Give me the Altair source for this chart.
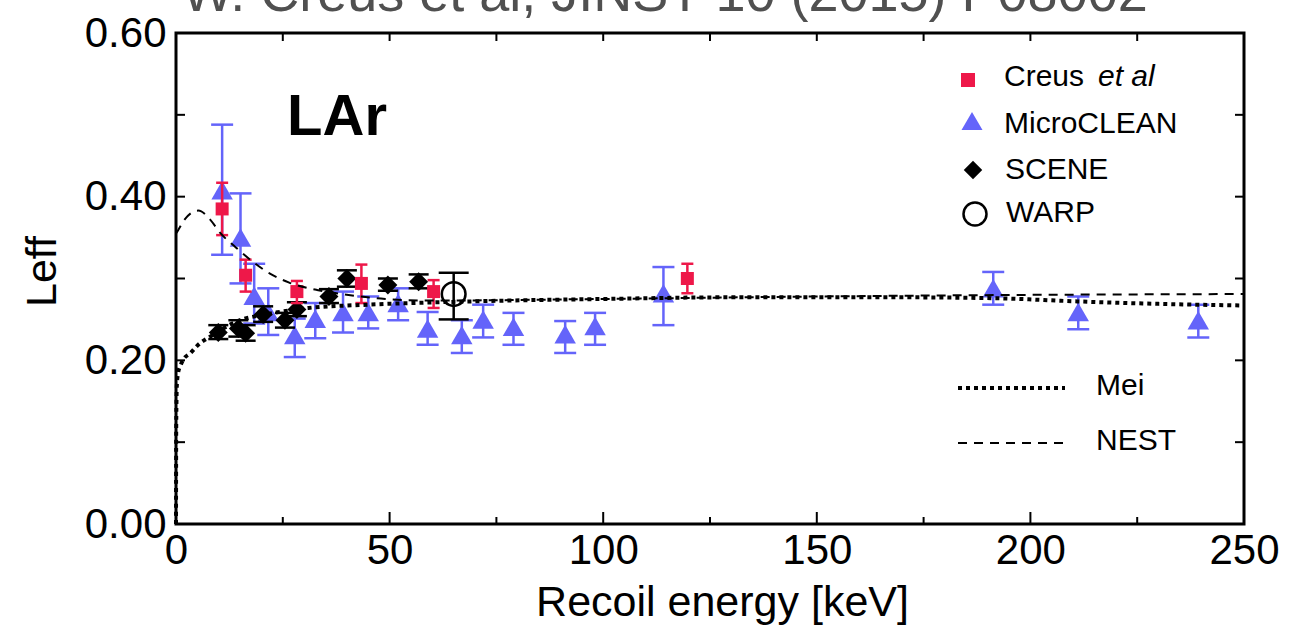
import altair as alt
import pandas as pd

# ---------------- data ----------------
creus_x = [10.8, 16.3, 28.3, 43.4, 60.3, 119.7]
creus_y = [0.385, 0.304, 0.284, 0.294, 0.284, 0.300]
creus_lo = [0.353, 0.284, 0.270, 0.270, 0.264, 0.282]
creus_hi = [0.417, 0.323, 0.297, 0.317, 0.298, 0.318]

micro_x = [10.8, 15.1, 18.3, 21.6, 27.8, 32.6, 39.1, 45.0, 52.0, 58.9, 66.9,
           71.9, 79.0, 91.1, 98.1, 114.1, 191.3, 211.2, 239.3]
micro_y = [0.408, 0.350, 0.279, 0.259, 0.231, 0.251, 0.259, 0.259, 0.270, 0.239,
           0.231, 0.250, 0.241, 0.232, 0.242, 0.282, 0.288, 0.259, 0.249]
micro_lo = [0.329, 0.294, 0.245, 0.231, 0.204, 0.227, 0.234, 0.239, 0.249, 0.219,
            0.209, 0.228, 0.219, 0.209, 0.219, 0.243, 0.268, 0.238, 0.228]
micro_hi = [0.488, 0.404, 0.318, 0.288, 0.251, 0.270, 0.284, 0.278, 0.288, 0.259,
            0.249, 0.268, 0.258, 0.248, 0.258, 0.314, 0.308, 0.278, 0.268]

scene_x = [9.9, 14.6, 16.3, 20.4, 25.5, 28.3, 35.8, 40.0, 49.6, 56.8]
scene_y = [0.234, 0.239, 0.233, 0.256, 0.249, 0.262, 0.278, 0.300, 0.292, 0.296]
scene_lo = [0.226, 0.229, 0.224, 0.247, 0.240, 0.254, 0.270, 0.290, 0.285, 0.288]
scene_hi = [0.243, 0.249, 0.243, 0.266, 0.258, 0.271, 0.287, 0.310, 0.300, 0.305]

warp_x = [65.0]
warp_y = [0.281]
warp_lo = [0.250]
warp_hi = [0.307]

mei_x = [0, 0.05, 0.2, 0.5, 1.0, 1.6, 3.4, 5.2, 8.0, 14.0, 22.0, 31.0, 45.0,
         69.0, 100.0, 130.0, 169.0, 191.0, 211.0, 230.0, 250.0]
mei_y = [0.0, 0.12, 0.17, 0.185, 0.193, 0.200, 0.209, 0.219, 0.229, 0.247, 0.257,
         0.264, 0.268, 0.272, 0.275, 0.277, 0.277, 0.276, 0.272, 0.269, 0.267]

nest_x = [0, 0.5, 2.0, 5.2, 8.0, 10.3, 14.0, 18.1, 22.0, 26.5, 33.0, 37.6, 49.0,
          60.0, 100.0, 150.0, 200.0, 250.0]
nest_y = [0.355, 0.359, 0.372, 0.383, 0.372, 0.356, 0.338, 0.320, 0.306, 0.295,
          0.286, 0.282, 0.275, 0.273, 0.275, 0.278, 0.280, 0.281]

x_labels = [0, 50, 100, 150, 200, 250]
x_major_ticks = [0, 50, 100, 150, 200, 250]
x_minor_ticks = [25, 75, 125, 175, 225]
x_top_ticks = [0, 25, 50, 75, 100, 125, 150, 175, 200, 225, 250]
y_labels = [0.0, 0.2, 0.4, 0.6]
y_ticks = [0.1, 0.2, 0.3, 0.4, 0.5]

# ---------------- styling ----------------
W, H = 1068, 491
FONT = "Liberation Sans"
RED = "#EE1849"
BLUE = "#6464FA"
BLACK = "#000000"

xs = alt.Scale(domain=[0, 250], nice=False, zero=False)
ys = alt.Scale(domain=[0, 0.6], nice=False, zero=False)

x_axis = alt.Axis(values=x_labels, format="d", ticks=False, domain=False, grid=False,
                  labelFontSize=42, labelFont=FONT, labelColor="black", labelPadding=6,
                  labelFlush=False, labelOverlap=False,
                  title="Recoil energy [keV]", titleFontSize=43, titleFont=FONT,
                  titleFontWeight="normal", titleColor="black",
                  titleX=546, titleY=91, titleAlign="center", titleBaseline="alphabetic")
y_axis = alt.Axis(values=y_labels, format=".2f", ticks=False, domain=False, grid=False,
                  labelFontSize=42, labelFont=FONT, labelColor="black", labelPadding=10,
                  labelFlush=False, labelOverlap=False,
                  title="Leff", titleFontSize=43, titleFont=FONT,
                  titleFontWeight="normal", titleColor="black", titleAngle=270,
                  titleX=-134, titleY=238, titleAlign="center", titleBaseline="middle")


def X():
    return alt.X("x:Q", scale=xs, axis=x_axis)


def Y(field="y"):
    return alt.Y(f"{field}:Q", scale=ys, axis=y_axis)


def Y2(field):
    return alt.Y2(f"{field}:Q")


def df(x, y, lo=None, hi=None):
    d = {"x": x, "y": y}
    if lo is not None:
        d["lo"] = lo
        d["hi"] = hi
    return pd.DataFrame(d)


layers = []

# axis ticks (inward), drawn through the scales
tick_bot_major = alt.Chart(pd.DataFrame({"x": x_major_ticks})).mark_rule(
    color="black", strokeWidth=2).encode(x=X(), y=alt.value(H), y2=alt.value(H - 12))
tick_bot_minor = alt.Chart(pd.DataFrame({"x": x_minor_ticks})).mark_rule(
    color="black", strokeWidth=2).encode(x=X(), y=alt.value(H), y2=alt.value(H - 7))
tick_top = alt.Chart(pd.DataFrame({"x": x_top_ticks})).mark_rule(
    color="black", strokeWidth=2).encode(x=X(), y=alt.value(0), y2=alt.value(8))
tick_left = alt.Chart(pd.DataFrame({"y": y_ticks})).mark_rule(
    color="black", strokeWidth=2).encode(y=Y(), x=alt.value(0), x2=alt.value(9))
tick_right = alt.Chart(pd.DataFrame({"y": y_ticks})).mark_rule(
    color="black", strokeWidth=2).encode(y=Y(), x=alt.value(W), x2=alt.value(W - 9))
layers += [tick_bot_major, tick_bot_minor, tick_top, tick_left, tick_right]


def series(data, color, cap, shape, size, filled=True, stroke_w=2):
    base = alt.Chart(data)
    err = base.mark_rule(color=color, strokeWidth=2.5).encode(x=X(), y=Y("lo"), y2=Y2("hi"))
    cap_lo = base.mark_tick(color=color, orient="horizontal", size=cap, thickness=2.5,
                            opacity=1).encode(x=X(), y=Y("lo"))
    cap_hi = base.mark_tick(color=color, orient="horizontal", size=cap, thickness=2.5,
                            opacity=1).encode(x=X(), y=Y("hi"))
    if filled:
        pts = base.mark_point(shape=shape, filled=True, color=color, size=size, opacity=1).encode(
            x=X(), y=Y())
    else:
        pts = base.mark_point(shape=shape, filled=False, color=color, size=size, opacity=1,
                              strokeWidth=stroke_w).encode(x=X(), y=Y())
    return [err, cap_lo, cap_hi, pts]


layers += series(df(micro_x, micro_y, micro_lo, micro_hi), BLUE, 22, "triangle-up", 460)
layers += series(df(scene_x, scene_y, scene_lo, scene_hi), BLACK, 20, "diamond", 360)
layers += series(df(creus_x, creus_y, creus_lo, creus_hi), RED, 12, "square", 169)
layers += series(df(warp_x, warp_y, warp_lo, warp_hi), BLACK, 30, "circle", 560,
                 filled=False, stroke_w=2.5)

mei = alt.Chart(df(mei_x, mei_y)).mark_line(
    color="black", strokeWidth=4, strokeDash=[4, 4], interpolate="monotone").encode(x=X(), y=Y())
nest = alt.Chart(df(nest_x, nest_y)).mark_line(
    color="black", strokeWidth=2, strokeDash=[9, 7], interpolate="monotone").encode(x=X(), y=Y())
layers += [mei, nest]

# ---------------- annotations / legend ----------------
one = pd.DataFrame({"a": [0]})
L, T = 176, 33  # plot origin in page pixels


def txt(s, px, py, size=30, weight="normal", style="normal", align="left",
        baseline="middle", color="black"):
    return alt.Chart(one).mark_text(text=s, font=FONT, fontSize=size, fontWeight=weight,
                                    fontStyle=style, align=align, baseline=baseline,
                                    color=color).encode(x=alt.value(px - L), y=alt.value(py - T))


def sym(shape, px, py, size, color, filled=True):
    if filled:
        return alt.Chart(one).mark_point(shape=shape, filled=True, color=color, size=size,
                                         opacity=1).encode(x=alt.value(px - L), y=alt.value(py - T))
    return alt.Chart(one).mark_point(shape=shape, filled=False, color=color, size=size,
                                     strokeWidth=2.5, opacity=1).encode(
        x=alt.value(px - L), y=alt.value(py - T))


layers += [
    txt("W. Creus et al, JINST 10 (2015) P08002", 665, 11, size=54, align="center",
        baseline="alphabetic", color="#505050"),
    txt("LAr", 337, 118, size=58, weight="bold", align="center"),
    sym("square", 968, 80, 196, RED),
    txt("Creus", 1004, 77),
    txt("et al", 1098, 77, style="italic"),
    sym("triangle-up", 972, 121, 441, BLUE),
    txt("MicroCLEAN", 1004, 124),
    sym("diamond", 973, 170, 340, BLACK),
    txt("SCENE", 1005, 170),
    sym("circle", 975, 214, 529, BLACK, filled=False),
    txt("WARP", 1006, 213),
    alt.Chart(one).mark_rule(color="black", strokeWidth=4, strokeDash=[4, 4]).encode(
        x=alt.value(958 - L), x2=alt.value(1065 - L), y=alt.value(388 - T)),
    txt("Mei", 1096, 386),
    alt.Chart(one).mark_rule(color="black", strokeWidth=2, strokeDash=[9, 7]).encode(
        x=alt.value(958 - L), x2=alt.value(1068 - L), y=alt.value(443 - T)),
    txt("NEST", 1096, 441),
]

chart = alt.layer(*layers).properties(
    width=W, height=H,
    autosize=alt.AutoSizeParams(type="none"),
    padding={"left": 176, "top": 33, "right": 53, "bottom": 104},
    background="white",
).configure_view(stroke="black", strokeWidth=3)

chart.save("out.html", embed_options={"renderer": "svg", "actions": False})
